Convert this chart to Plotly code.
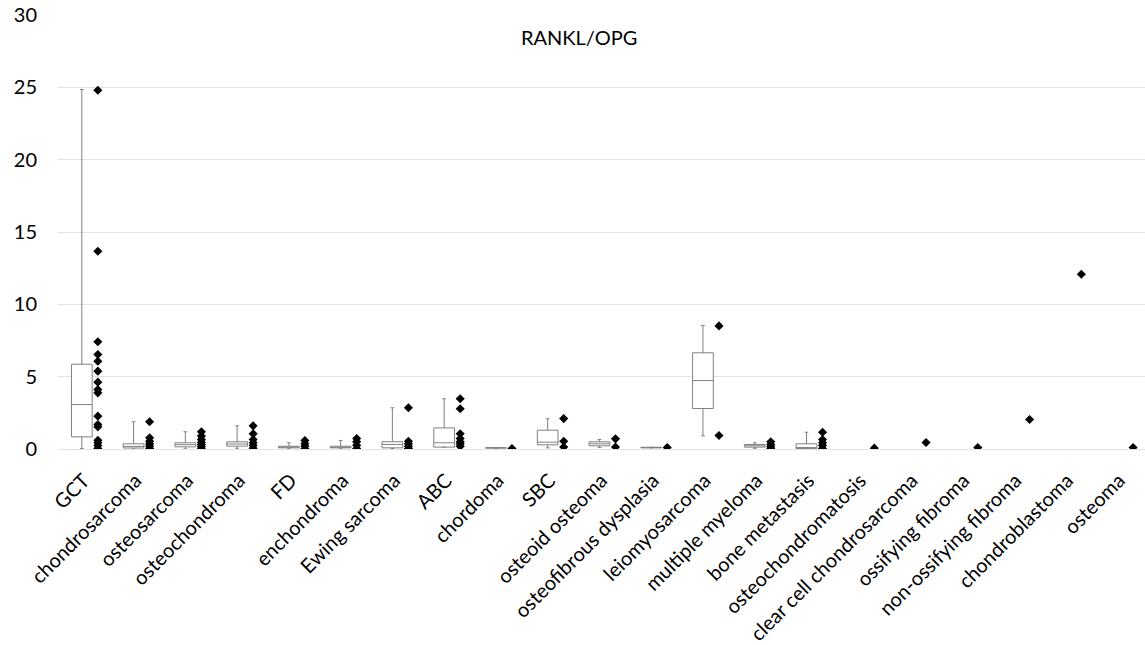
import plotly.graph_objects as go

# Tumour types along the x-axis
categories = [
    "GCT", "chondrosarcoma", "osteosarcoma", "osteochondroma", "FD",
    "enchondroma", "Ewing sarcoma", "ABC", "chordoma", "SBC",
    "osteoid osteoma", "osteofibrous dysplasia", "leiomyosarcoma",
    "multiple myeloma", "bone metastasis", "osteochondromatosis",
    "clear cell chondrosarcoma", "ossifying fibroma", "non-ossifying fibroma",
    "chondroblastoma", "osteoma",
]

# Box statistics (only for groups with several cases): min, q1, median, q3, max
box_groups = categories[:15]
box_min = [0.03, 0.0, 0.01, 0.05, 0.01, 0.02, 0.03, 0.13, 0.06, 0.08, 0.10, 0.08, 0.91, 0.05, 0.02]
box_q1 = [0.84, 0.07, 0.15, 0.20, 0.08, 0.08, 0.08, 0.13, 0.07, 0.29, 0.22, 0.08, 2.80, 0.13, 0.03]
box_median = [3.07, 0.18, 0.30, 0.35, 0.13, 0.12, 0.31, 0.43, 0.08, 0.47, 0.36, 0.10, 4.73, 0.22, 0.06]
box_q3 = [5.86, 0.36, 0.43, 0.50, 0.19, 0.19, 0.50, 1.46, 0.09, 1.30, 0.50, 0.12, 6.65, 0.31, 0.36]
box_max = [24.85, 1.88, 1.19, 1.60, 0.43, 0.59, 2.85, 3.47, 0.10, 2.09, 0.66, 0.12, 8.53, 0.43, 1.16]

# Individual RANKL/OPG ratios per tumour type
values = {
    "GCT": [24.8, 13.67, 7.41, 6.53, 6.07, 5.38, 4.62, 4.11, 3.88, 2.27, 1.69, 1.53,
            0.61, 0.43, 0.24, 0.03],
    "chondrosarcoma": [1.88, 0.77, 0.54, 0.36, 0.20, 0.03],
    "osteosarcoma": [1.19, 0.89, 0.66, 0.47, 0.31, 0.15, 0.01],
    "osteochondroma": [1.60, 1.05, 0.66, 0.43, 0.24, 0.06],
    "FD": [0.59, 0.36, 0.19, 0.01],
    "enchondroma": [0.73, 0.50, 0.26, 0.03],
    "Ewing sarcoma": [2.85, 0.54, 0.36, 0.19, 0.03],
    "ABC": [3.47, 2.78, 1.05, 0.73, 0.50, 0.36, 0.19],
    "chordoma": [0.03],
    "SBC": [2.10, 0.54, 0.13],
    "osteoid osteoma": [0.70, 0.13],
    "osteofibrous dysplasia": [0.10],
    "leiomyosarcoma": [8.51, 0.93],
    "multiple myeloma": [0.50, 0.31, 0.15, 0.01],
    "bone metastasis": [1.16, 0.66, 0.43, 0.24, 0.03],
    "osteochondromatosis": [0.06],
    "clear cell chondrosarcoma": [0.45],
    "ossifying fibroma": [0.10],
    "non-ossifying fibroma": [2.04],
    "chondroblastoma": [12.08],
    "osteoma": [0.10],
}

y_ticks = [0, 5, 10, 15, 20, 25, 30]

idx = {name: i for i, name in enumerate(categories)}
BOX_SHIFT = -0.04
POINT_SHIFT = 0.27

fig = go.Figure()

fig.add_trace(go.Box(
    x=[idx[g] + BOX_SHIFT for g in box_groups],
    lowerfence=box_min,
    q1=box_q1,
    median=box_median,
    q3=box_q3,
    upperfence=box_max,
    width=0.4,
    whiskerwidth=0.18,
    boxpoints=False,
    fillcolor="white",
    line=dict(color="#808080", width=1),
    hoverinfo="skip",
    showlegend=False,
))

px, py = [], []
for name in categories:
    for v in values[name]:
        px.append(idx[name] + POINT_SHIFT)
        py.append(v)

fig.add_trace(go.Scatter(
    x=px, y=py, mode="markers",
    marker=dict(symbol="diamond", size=7, color="black"),
    showlegend=False, hoverinfo="skip",
))

# Chart title inside the plot area
fig.add_annotation(
    text="RANKL/OPG", xref="paper", yref="paper",
    x=(579 - 58) / 1087, y=(449.5 - 37) / 434.5,
    showarrow=False, font=dict(size=20, color="black"),
    xanchor="center", yanchor="middle",
)

fig.update_layout(
    width=1145, height=645,
    margin=dict(l=58, r=0, t=15, b=196, autoexpand=False),
    paper_bgcolor="white", plot_bgcolor="white",
    font=dict(family="Lato, 'Open Sans', sans-serif", color="black"),
    xaxis=dict(
        range=[-0.5, len(categories) - 0.5],
        tickmode="array",
        tickvals=list(range(len(categories))),
        ticktext=categories,
        tickangle=-45,
        tickfont=dict(size=20),
        ticks="outside", ticklen=11, tickcolor="rgba(0,0,0,0)",
        showgrid=False, zeroline=False, showline=False,
        automargin=False,
    ),
    yaxis=dict(
        range=[0, 30],
        tickmode="array",
        tickvals=y_ticks,
        tickfont=dict(size=20),
        showgrid=True, gridcolor="#e3e3e3", gridwidth=1,
        zeroline=True, zerolinecolor="#e3e3e3", zerolinewidth=1,
        showline=False,
        ticklabelstandoff=20,
        automargin=False,
    ),
)

fig.write_html("out.html")
